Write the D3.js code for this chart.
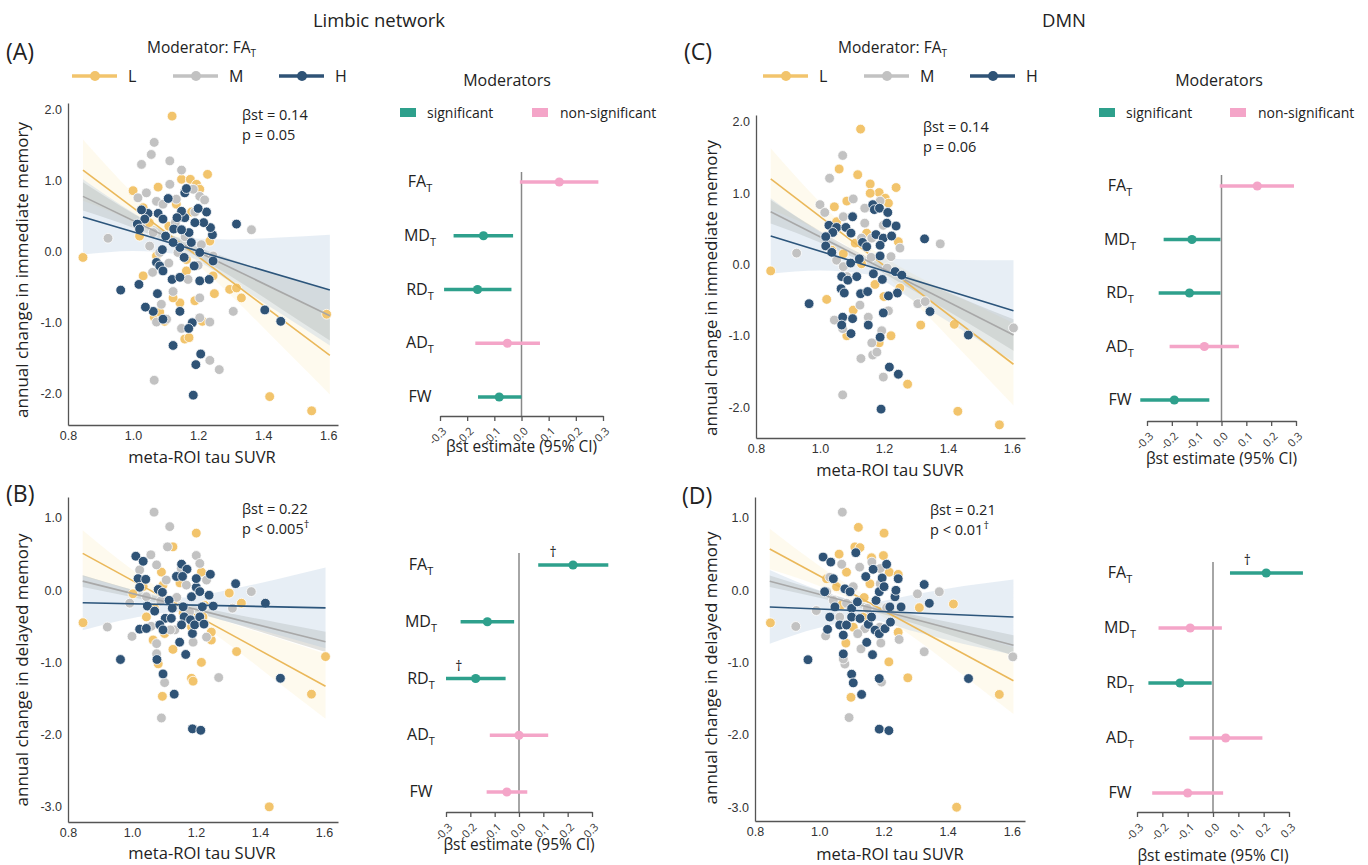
<!DOCTYPE html>
<html>
<head>
<meta charset="utf-8">
<script src="https://cdn.jsdelivr.net/npm/d3@7/dist/d3.min.js"></script>
<style>
  body { margin: 0; background: #fff; }
  svg { display: block; }
  text { font-family: "Open Sans", sans-serif; fill: #222; }
</style>
</head>
<body>
<svg id="fig" width="1368" height="865"></svg>
<script>
// ---- data ----
var tauTicks = [0.8, 1.0, 1.2, 1.4, 1.6];
var immTicks = [2.0, 1.0, 0.0, -1.0, -2.0];
var delTicks = [1.0, 0.0, -1.0, -2.0, -3.0];
var betaTicks = [-0.3, -0.2, -0.1, 0.0, 0.1, 0.2, 0.3];
var groupNames = ["L", "M", "H"];
var moderators = [["FA", "T"], ["MD", "T"], ["RD", "T"], ["AD", "T"], ["FW", ""]];

// fitted lines: value at x = fitX[0] and fitX[1], per group L, M, H
var fitX = [0.846, 1.605];
var fitA = [[1.14, -1.47], [0.77, -0.91], [0.48, -0.55]];
var fitB = [[0.51, -1.33], [0.125, -0.715], [-0.175, -0.245]];
var fitC = [[1.20, -1.40], [0.74, -0.99], [0.40, -0.65]];
var fitD = [[0.57, -1.25], [0.125, -0.76], [-0.23, -0.37]];

// confidence band half widths at bandX
var bandX = [0.846, 1.0, 1.15, 1.3, 1.45, 1.605];
var bandA = [[0.43, 0.2, 0.1, 0.2, 0.37, 0.55], [0.2, 0.1, 0.06, 0.12, 0.23, 0.35], [0.53, 0.27, 0.12, 0.3, 0.53, 0.78]];
var bandB = [[0.32, 0.15, 0.08, 0.15, 0.3, 0.45], [0.08, 0.05, 0.04, 0.06, 0.1, 0.14], [0.38, 0.2, 0.1, 0.22, 0.38, 0.56]];
var bandC = [[0.43, 0.2, 0.1, 0.2, 0.38, 0.58], [0.165, 0.08, 0.05, 0.09, 0.15, 0.22], [0.53, 0.27, 0.12, 0.3, 0.5, 0.71]];
var bandD = [[0.28, 0.14, 0.08, 0.15, 0.3, 0.46], [0.08, 0.05, 0.04, 0.06, 0.1, 0.14], [0.51, 0.26, 0.12, 0.26, 0.4, 0.52]];

// scatter points [tau SUVR, annual change, group 0=L 1=M 2=H]
var pointsA = [
  [1.12,1.90,0],[0.846,-0.09,0],[1.00,0.85,0],[1.077,0.90,0],[1.149,1.01,0],[1.176,1.01,0],[1.195,0.94,0],[1.229,1.08,0],
  [1.205,0.87,0],[1.031,0.61,0],[1.297,-0.54,0],[1.318,-0.52,0],[1.333,-0.66,0],[1.595,-0.89,0],[1.42,-2.05,0],[1.549,-2.25,0],
  [1.159,-1.24,0],[1.172,-1.22,0],[1.19,-0.70,0],[1.213,-0.99,0],[1.144,-0.73,0],[1.065,-0.93,0],[1.082,-0.86,0],[1.097,-0.99,0],
  [1.031,-0.35,0],[1.164,-0.28,0],[1.236,0.14,0],[1.246,-0.35,0],[1.072,-0.07,0],[1.123,-0.66,0],[1.02,0.21,0],[1.133,0.66,0],[1.164,-0.12,0],
  [1.05,0.40,0],[1.18,0.55,0],[1.25,-0.60,0],[1.11,0.35,0],
  [1.065,1.53,1],[1.056,1.36,1],[1.026,1.22,1],[1.113,1.27,1],[1.149,1.14,1],[0.923,0.18,1],[1.364,0.30,1],[1.308,-0.85,1],
  [1.065,-1.82,1],[1.265,-1.67,1],[1.236,-1.54,1],[1.236,-1.0,1],[1.149,-1.09,1],[1.205,-0.94,1],[1.205,-0.66,1],[1.205,-0.42,1],
  [1.123,-0.57,1],[1.015,0.75,1],[1.041,0.82,1],[1.072,0.70,1],[1.092,0.66,1],[1.113,0.94,1],[1.133,0.73,1],[1.185,0.87,1],
  [1.205,0.77,1],[1.21,0.09,1],[1.246,-0.07,1],[1.072,-1.0,1],[1.103,-0.96,1],[1.087,-0.75,1],[1.051,0.07,1],[1.082,-0.02,1],
  [1.062,0.26,1],[1.015,0.35,1],[1.11,-0.17,1],[1.138,-0.02,1],[1.169,-0.40,1],[1.172,0.25,1],[1.22,0.72,1],[1.19,0.55,1],[1.10,0.2,1],
  [1.16,0.2,1],[1.13,0.4,1],[1.2,-0.2,1],[1.06,-0.3,1],
  [1.185,-2.03,2],[1.123,-1.33,2],[1.208,-1.45,2],[1.193,-1.60,2],[1.182,-1.01,2],[1.171,-1.09,2],[1.092,-0.96,2],[1.144,-0.85,2],
  [1.062,-0.85,2],[1.038,-0.79,2],[1.075,-0.60,2],[0.962,-0.55,2],[1.018,-0.47,2],[1.12,-0.40,2],[1.144,-0.37,2],[1.205,-0.42,2],
  [1.234,-0.40,2],[1.405,-0.83,2],[1.454,-0.99,2],[1.318,0.38,2],[1.244,0.23,2],[1.238,0.33,2],[1.226,0.55,2],[1.20,0.60,2],
  [1.217,0.40,2],[1.19,0.40,2],[1.172,0.26,2],[1.179,0.12,2],[1.159,0.47,2],[1.149,0.56,2],[1.135,0.47,2],[1.125,0.31,2],
  [1.149,0.30,2],[1.159,0.82,2],[1.164,0.88,2],[1.108,0.74,2],[1.077,0.53,2],[1.092,0.45,2],[1.046,0.53,2],[1.026,0.58,2],
  [1.036,0.45,2],[1.013,0.38,2],[1.02,0.31,2],[1.09,0.02,2],[1.10,0.21,2],[1.072,-0.16,2],[1.082,-0.21,2],[1.092,-0.28,2],
  [1.144,0.05,2],[1.157,-0.09,2],[1.188,-0.21,2],[1.246,-0.14,2],[1.123,0.12,2],[1.205,-0.02,2]
];
var pointsB = [
  [1.201,0.79,0],[0.847,-0.45,0],[1.429,-3.0,0],[1.561,-1.44,0],[1.605,-0.92,0],[1.327,-0.85,0],[1.304,-0.04,0],[1.342,-0.18,0],
  [1.217,-1.0,0],[1.248,-0.69,0],[1.248,-0.58,0],[1.186,-1.22,0],[1.191,-1.26,0],[1.095,-1.47,0],[1.128,-0.82,0],[1.082,-1.02,0],
  [1.128,0.60,0],[1.217,0.25,0],[1.092,0.25,0],[1.097,0.07,0],[1.035,0.05,0],[1.045,-0.37,0],[1.003,-0.05,0],[1.186,-0.51,0],
  [1.222,-0.37,0],[1.128,-0.18,0],[1.16,-0.32,0],[1.066,-0.69,0],[1.102,-0.60,0],[1.227,-0.21,0],[1.15,0.1,0],[1.07,-0.25,0],
  [1.069,1.08,1],[1.118,0.88,1],[1.111,0.6,1],[1.201,0.48,1],[1.059,0.49,1],[1.077,0.35,1],[0.923,-0.51,1],[1.0,-0.64,1],
  [1.373,-0.02,1],[1.314,-0.25,1],[1.271,-1.21,1],[1.092,-1.77,1],[1.102,-1.28,1],[1.077,-0.88,1],[1.077,-0.74,1],[1.212,0.37,1],
  [1.233,0.14,1],[1.024,0.28,1],[1.045,-0.09,1],[1.107,0.14,1],[1.154,0.30,1],[1.17,0.07,1],[1.191,-0.72,1],[1.134,-0.55,1],
  [1.222,-0.23,1],[0.993,-0.18,1],[1.233,-0.65,1],[1.06,-0.5,1],[1.12,-0.55,1],[1.14,-0.1,1],[1.18,-0.3,1],[1.09,-0.15,1],
  [1.189,-1.92,2],[1.215,-1.94,2],[1.132,-1.44,2],[1.097,-1.16,2],[1.078,-0.96,2],[1.168,-0.89,2],[1.149,-0.72,2],[0.964,-0.96,2],
  [1.464,-1.22,2],[1.417,-0.18,2],[1.324,0.09,2],[1.012,0.47,2],[1.035,0.40,2],[1.019,0.16,2],[1.043,0.15,2],[1.024,0.04,2],
  [1.048,-0.22,2],[1.024,-0.54,2],[1.045,-0.53,2],[1.071,-0.29,2],[1.082,0.01,2],[1.095,-0.03,2],[1.104,-0.39,2],[1.087,-0.48,2],
  [1.097,-0.55,2],[1.116,-0.14,2],[1.126,-0.25,2],[1.123,-0.39,2],[1.139,0.19,2],[1.155,0.36,2],[1.172,0.29,2],[1.158,0.19,2],
  [1.16,-0.23,2],[1.163,-0.37,2],[1.155,-0.48,2],[1.186,-0.09,2],[1.183,-0.41,2],[1.189,-0.6,2],[1.201,0.04,2],[1.201,0.16,2],
  [1.212,-0.02,2],[1.196,-0.48,2],[1.212,-0.37,2],[1.225,-0.47,2],[1.241,-0.07,2],[1.245,0.22,2],[1.254,-0.22,2],[1.22,-0.23,2]
];
var pointsC = [
  [1.127,1.90,0],[0.846,-0.09,0],[1.06,1.34,0],[1.118,1.26,0],[1.157,1.13,0],[1.238,1.08,0],[1.185,1.01,0],[1.157,1.0,0],
  [1.204,0.93,0],[1.214,0.86,0],[1.084,0.89,0],[1.045,0.81,0],[1.021,-0.49,0],[1.315,-0.85,0],[1.42,-0.84,0],[1.431,-2.06,0],
  [1.561,-2.25,0],[1.274,-1.68,0],[1.222,-1.0,0],[1.185,-1.1,0],[1.172,-0.28,0],[1.245,0.32,0],[1.25,-0.33,0],[1.104,-0.64,0],
  [1.084,-1.0,0],[1.073,0.15,0],[1.052,0.6,0],[1.037,0.2,0],[1.146,0.44,0],[1.13,0.01,0],[1.2,-0.45,0],[1.11,0.3,0],
  [1.071,1.53,1],[1.03,1.21,1],[1.0,0.84,1],[1.015,0.73,1],[1.104,0.92,1],[1.188,0.89,1],[0.927,0.16,1],[1.376,0.29,1],
  [1.306,-0.55,1],[1.329,-0.52,1],[1.605,-0.89,1],[1.071,-1.83,1],[1.128,-1.32,1],[1.165,-1.27,1],[1.178,-1.23,1],[1.198,-1.58,1],
  [1.162,-1.10,1],[1.193,-0.93,1],[1.045,-0.78,1],[1.071,-0.90,1],[1.125,-0.57,1],[1.151,-0.74,1],[1.214,-0.65,1],[1.222,0.11,1],
  [1.25,0.23,1],[1.052,0.06,1],[1.073,-0.03,1],[1.14,0.58,1],[1.162,0.37,1],[1.198,0.55,1],[1.084,-0.17,1],[1.13,0.37,1],
  [1.073,0.67,1],[1.14,0.79,1],[1.16,0.1,1],[1.21,-0.05,1],
  [1.191,-2.03,2],[1.217,-1.44,2],[1.245,-1.54,2],[1.188,-1.02,2],[1.198,-0.68,2],[1.102,-0.76,2],[1.071,-0.74,2],[1.068,-0.85,2],
  [1.097,-0.97,2],[1.151,-0.85,2],[0.966,-0.55,2],[1.066,-0.34,2],[1.076,-0.40,2],[1.127,-0.41,2],[1.149,-0.38,2],[1.242,-0.40,2],
  [1.214,-0.44,2],[1.068,-0.17,2],[1.087,-0.22,2],[1.115,-0.17,2],[1.167,-0.13,2],[1.195,-0.21,2],[1.235,-0.10,2],[1.256,-0.15,2],
  [1.327,0.36,2],[1.344,-0.66,2],[1.464,-0.99,2],[1.028,0.55,2],[1.052,0.52,2],[1.04,0.45,2],[1.018,0.39,2],[1.018,0.26,2],
  [1.037,0.17,2],[1.081,0.52,2],[1.102,0.67,2],[1.097,0.44,2],[1.096,0.02,2],[1.123,0.08,2],[1.133,0.31,2],[1.146,0.25,2],
  [1.165,0.84,2],[1.17,0.77,2],[1.186,0.79,2],[1.212,0.73,2],[1.175,0.42,2],[1.198,0.37,2],[1.209,0.58,2],[1.188,0.27,2],
  [1.188,0.12,2],[1.224,0.40,2],[1.238,0.54,2]
];
var pointsD = [
  [1.122,0.87,0],[1.202,0.79,0],[0.848,-0.45,0],[1.428,-3.0,0],[1.561,-1.44,0],[1.418,-0.19,0],[1.312,-0.24,0],[1.276,-1.21,0],
  [1.217,-0.99,0],[1.099,-1.48,0],[1.083,-0.73,0],[1.111,0.60,0],[1.127,0.59,0],[1.163,0.45,0],[1.20,0.48,0],[1.062,0.50,0],
  [1.054,0.05,0],[1.218,0.25,0],[1.246,0.22,0],[1.246,-0.58,0],[1.085,0.25,0],[1.158,0.09,0],[1.023,0.16,0],[1.106,-0.51,0],[1.137,-0.37,0],
  [1.14,-0.1,0],[1.07,-0.2,0],
  [1.072,1.08,1],[1.126,0.32,1],[1.164,0.39,1],[1.19,0.30,1],[1.02,-0.63,1],[0.927,-0.50,1],[1.306,-0.05,1],[1.374,-0.02,1],
  [1.327,-0.85,1],[1.603,-0.92,1],[1.093,-1.76,1],[1.194,-1.27,1],[1.08,-1.02,1],[1.075,-0.95,1],[1.13,-0.81,1],[1.192,-0.73,1],
  [1.249,-0.68,1],[1.21,-0.24,1],[1.023,-0.02,1],[1.044,-0.14,1],[1.064,-0.37,1],[1.085,-0.18,1],[1.142,-0.53,1],[1.189,-0.51,1],
  [1.033,0.18,1],[1.106,0.05,1],[0.991,-0.28,1],[1.19,0.09,1],[1.07,0.36,1],[1.15,-0.25,1],[1.12,-0.6,1],
  [1.187,-1.92,2],[1.217,-1.94,2],[1.132,-1.44,2],[1.101,-1.16,2],[1.106,-1.28,2],[1.075,-0.88,2],[0.965,-0.96,2],[1.166,-0.89,2],
  [1.148,-0.72,2],[1.187,-1.22,2],[1.465,-1.22,2],[1.343,-0.18,2],[1.327,0.08,2],[1.012,0.46,2],[1.036,0.39,2],[1.114,0.52,2],
  [1.044,0.16,2],[1.017,-0.02,2],[1.049,-0.23,2],[1.033,-0.37,2],[1.026,-0.54,2],[1.064,-0.48,2],[1.075,-0.62,2],[1.085,-0.48,2],
  [1.08,0.02,2],[1.096,-0.02,2],[1.101,-0.25,2],[1.101,-0.37,2],[1.119,-0.16,2],[1.127,-0.39,2],[1.145,0.19,2],[1.168,0.29,2],
  [1.153,-0.47,2],[1.163,-0.37,2],[1.174,-0.55,2],[1.177,-0.14,2],[1.187,-0.02,2],[1.187,-0.6,2],[1.196,0.17,2],[1.202,0.05,2],
  [1.21,0.36,2],[1.205,-0.53,2],[1.22,-0.23,2],[1.222,-0.44,2],[1.236,-0.09,2],[1.239,0.0,2],[1.246,0.16,2],[1.255,-0.23,2]
];

// moderator estimates [beta, ci low, ci high, significant]
var forestA = [[0.139, -0.006, 0.283, 0], [-0.14, -0.25, -0.031, 1], [-0.162, -0.285, -0.037, 1], [-0.052, -0.17, 0.068, 0], [-0.082, -0.16, 0.0, 1]];
var forestB = [[0.222, 0.079, 0.367, 1], [-0.13, -0.24, -0.02, 1], [-0.178, -0.30, -0.055, 1], [0.0, -0.12, 0.12, 0], [-0.05, -0.133, 0.034, 0]];
var forestC = [[0.144, -0.007, 0.292, 0], [-0.119, -0.233, -0.004, 1], [-0.129, -0.253, -0.004, 1], [-0.069, -0.209, 0.07, 0], [-0.19, -0.327, -0.049, 1]];
var forestD = [[0.21, 0.067, 0.355, 1], [-0.09, -0.215, 0.035, 0], [-0.13, -0.255, -0.005, 1], [0.05, -0.093, 0.195, 0], [-0.10, -0.24, 0.04, 0]];
// daggers [row, beta position]
var daggerB = [[0, 0.14], [2, -0.247]];
var daggerD = [[0, 0.135]];

var statsA = ["βst = 0.14", "p = 0.05", ""];
var statsB = ["βst = 0.22", "p < 0.005", "†"];
var statsC = ["βst = 0.14", "p = 0.06", ""];
var statsD = ["βst = 0.21", "p < 0.01", "†"];

// ---- styles ----
var pointColors = ["#f2c46c", "#c2c2c2", "#2f5376"];
var lineColors = ["#eab85a", "#a8a8a8", "#2c557b"];
var bandColors = ["rgba(250,228,160,0.18)", "rgba(150,150,140,0.28)", "rgba(175,198,222,0.3)"];
var sigColor = "#2ea08c";
var nonSigColor = "#f4a5c8";

var svg = d3.select("#fig");
var fmt = function(d) { return d.toFixed(1); };

function drawScatter(p) {
  var x = d3.scaleLinear().domain(p.xDom).range(p.xRange);
  var y = d3.scaleLinear().domain(p.yDom).range(p.yRange);
  var g = svg.append("g");

  var area = d3.area()
    .x(function(d) { return x(d[0]); })
    .y0(function(d) { return y(d[1]); })
    .y1(function(d) { return y(d[2]); })
    .curve(d3.curveMonotoneX);

  function fitAt(fit, xv) {
    return fit[0] + (fit[1] - fit[0]) * (xv - fitX[0]) / (fitX[1] - fitX[0]);
  }

  // bands under everything
  p.band.forEach(function(hw, gi) {
    var rows = bandX.map(function(bx, i) {
      var c = fitAt(p.fit[gi], bx);
      return [bx, c - hw[i], c + hw[i]];
    });
    g.append("path").attr("d", area(rows)).attr("fill", bandColors[gi]);
  });

  // per group: points then its line
  [0, 1, 2].forEach(function(gi) {
    g.append("g").selectAll("circle")
      .data(p.pts.filter(function(d) { return d[2] === gi; }))
      .enter().append("circle")
      .attr("cx", function(d) { return x(d[0]); })
      .attr("cy", function(d) { return y(d[1]); })
      .attr("r", 4.9)
      .attr("fill", pointColors[gi])
      .attr("stroke", "#fff")
      .attr("stroke-width", 0.8);
    g.append("line")
      .attr("x1", x(fitX[0])).attr("y1", y(p.fit[gi][0]))
      .attr("x2", x(fitX[1])).attr("y2", y(p.fit[gi][1]))
      .attr("stroke", lineColors[gi]).attr("stroke-width", 1.6);
  });

  var xa = g.append("g")
    .attr("transform", "translate(0," + p.yRange[1] + ")")
    .call(d3.axisBottom(x).tickValues(tauTicks).tickSize(0).tickPadding(6).tickFormat(fmt));
  var ya = g.append("g")
    .attr("transform", "translate(" + p.xRange[0] + ",0)")
    .call(d3.axisLeft(y).tickValues(p.yTicks).tickSize(0).tickPadding(6).tickFormat(fmt));
  [xa, ya].forEach(function(a) {
    a.select(".domain").attr("stroke", "#555").attr("stroke-width", 1.3);
    a.selectAll("text").style("font-family", "'Liberation Sans', Arial, sans-serif")
      .style("font-size", "12.5px").style("fill", "#333");
  });

  g.append("text")
    .attr("transform", "translate(" + p.yLabelX + "," + p.yLabelY + ") rotate(-90)")
    .attr("text-anchor", "middle")
    .style("font-size", "17px")
    .text(p.yLabel);
  g.append("text")
    .attr("x", p.xLabelX).attr("y", p.xLabelY)
    .attr("text-anchor", "middle")
    .style("font-size", "16.5px")
    .text("meta-ROI tau SUVR");

  var st = g.append("text").attr("x", p.statX).attr("y", p.statY).style("font-size", "14.5px");
  st.text(p.stats[0]);
  var st2 = g.append("text").attr("x", p.statX).attr("y", p.statY + 20).style("font-size", "14.5px");
  st2.text(p.stats[1]);
  if (p.stats[2]) {
    st2.append("tspan").attr("dy", -6).style("font-size", "11px").text(p.stats[2]);
  }
}

function drawForest(f) {
  var x = d3.scaleLinear().domain([-0.3, 0.3]).range(f.xRange);
  var y = d3.scalePoint().domain(moderators.map(function(m) { return m[0]; })).range(f.rows);
  var g = svg.append("g");

  g.append("line")
    .attr("x1", x(0)).attr("x2", x(0))
    .attr("y1", f.top).attr("y2", f.axisY)
    .attr("stroke", "#888").attr("stroke-width", 1.5);

  var rows = g.selectAll("g.row").data(f.data).enter().append("g").attr("class", "row");
  rows.append("line")
    .attr("x1", function(d) { return x(d[1]); })
    .attr("x2", function(d) { return x(d[2]); })
    .attr("y1", function(d, i) { return y(moderators[i][0]); })
    .attr("y2", function(d, i) { return y(moderators[i][0]); })
    .attr("stroke", function(d) { return d[3] ? sigColor : nonSigColor; })
    .attr("stroke-width", 3.5);
  rows.append("circle")
    .attr("cx", function(d) { return x(d[0]); })
    .attr("cy", function(d, i) { return y(moderators[i][0]); })
    .attr("r", 4.6)
    .attr("fill", function(d) { return d[3] ? sigColor : nonSigColor; });

  moderators.forEach(function(m) {
    var t = g.append("text")
      .attr("x", f.labelX).attr("y", y(m[0]) + 5)
      .attr("text-anchor", "middle")
      .style("font-size", "16px")
      .text(m[0]);
    if (m[1]) t.append("tspan").attr("dy", 5).style("font-size", "11px").text(m[1]);
  });

  (f.daggers || []).forEach(function(dg) {
    g.append("text")
      .attr("x", x(dg[1])).attr("y", y(moderators[dg[0]][0]) - 8)
      .attr("text-anchor", "middle")
      .style("font-size", "14px")
      .text("†");
  });

  var ax = g.append("g")
    .attr("transform", "translate(0," + f.axisY + ")")
    .call(d3.axisBottom(x).tickValues(betaTicks).tickSize(5).tickSizeOuter(0).tickFormat(fmt));
  ax.select(".domain").attr("stroke", "#555").attr("stroke-width", 1.5);
  ax.selectAll(".tick line").attr("stroke", "#555").attr("stroke-width", 1.3);
  ax.selectAll("text")
    .attr("x", 0).attr("y", 0).attr("dy", "0.35em")
    .attr("text-anchor", "end")
    .attr("transform", "translate(4,13) rotate(-45)")
    .style("font-size", "11px").style("fill", "#333");

  g.append("text")
    .attr("x", (f.xRange[0] + f.xRange[1]) / 2).attr("y", f.titleY)
    .attr("text-anchor", "middle")
    .style("font-size", "15.5px")
    .text("βst estimate (95% CI)");
}

function drawGroupLegend(x0) {
  var offs = [0, 101, 207];
  var t = svg.append("text").attr("x", x0 + 75).attr("y", 53).style("font-size", "15.5px").text("Moderator: FA");
  t.append("tspan").attr("dy", 4).style("font-size", "10px").text("T");
  groupNames.forEach(function(nm, i) {
    var lx = x0 + offs[i];
    svg.append("line").attr("x1", lx).attr("x2", lx + 45).attr("y1", 76).attr("y2", 76)
      .attr("stroke", pointColors[i]).attr("stroke-width", 3.3);
    svg.append("circle").attr("cx", lx + 23).attr("cy", 76).attr("r", 5).attr("fill", pointColors[i]);
    svg.append("text").attr("x", lx + 56).attr("y", 82).style("font-size", "16px").text(nm);
  });
}

function drawSigLegend(x0, x1, cx) {
  svg.append("text").attr("x", cx).attr("y", 86).attr("text-anchor", "middle").style("font-size", "16px").text("Moderators");
  svg.append("rect").attr("x", x0).attr("y", 108).attr("width", 16).attr("height", 9).attr("fill", sigColor);
  svg.append("text").attr("x", x0 + 27).attr("y", 118).style("font-size", "14px").text("significant");
  svg.append("rect").attr("x", x1).attr("y", 108).attr("width", 16).attr("height", 9).attr("fill", nonSigColor);
  svg.append("text").attr("x", x1 + 28).attr("y", 118).style("font-size", "14px").text("non-significant");
}

// ---- headers ----
svg.append("text").attr("x", 379).attr("y", 27).attr("text-anchor", "middle").style("font-size", "18.5px").text("Limbic network");
svg.append("text").attr("x", 1064).attr("y", 27).attr("text-anchor", "middle").style("font-size", "18.5px").text("DMN");
[["(A)", 6, 60], ["(B)", 6, 502], ["(C)", 684, 60], ["(D)", 682, 504]].forEach(function(l) {
  svg.append("text").attr("x", l[1]).attr("y", l[2]).style("font-size", "23px").text(l[0]);
});
drawGroupLegend(72);
drawGroupLegend(763);
drawSigLegend(400, 532, 507);
drawSigLegend(1099, 1230, 1219);

// ---- panels ----
drawScatter({pts: pointsA, fit: fitA, band: bandA, yTicks: immTicks, stats: statsA,
  xDom: [0.8, 1.63], xRange: [68, 338], yDom: [2.085, -2.45], yRange: [103, 425],
  yLabel: "annual change in immediate memory", yLabelX: 28, yLabelY: 270, xLabelX: 202, xLabelY: 463, statX: 242, statY: 120});
drawScatter({pts: pointsB, fit: fitB, band: bandB, yTicks: delTicks, stats: statsB,
  xDom: [0.8, 1.644], xRange: [68, 338], yDom: [1.29, -3.21], yRange: [497, 822],
  yLabel: "annual change in delayed memory", yLabelX: 28, yLabelY: 670, xLabelX: 202, xLabelY: 859, statX: 242, statY: 514});
drawScatter({pts: pointsC, fit: fitC, band: bandC, yTicks: immTicks, stats: statsC,
  xDom: [0.8, 1.641], xRange: [756, 1025], yDom: [2.098, -2.435], yRange: [115, 438],
  yLabel: "annual change in immediate memory", yLabelX: 717, yLabelY: 288, xLabelX: 890, xLabelY: 476, statX: 923, statY: 132});
drawScatter({pts: pointsD, fit: fitD, band: bandD, yTicks: delTicks, stats: statsD,
  xDom: [0.8, 1.641], xRange: [755, 1025], yDom: [1.29, -3.19], yRange: [497, 821],
  yLabel: "annual change in delayed memory", yLabelX: 717, yLabelY: 668, xLabelX: 890, xLabelY: 860, statX: 930, statY: 515});

drawForest({data: forestA, xRange: [440, 603], rows: [182, 397], axisY: 416, top: 172, labelX: 420, titleY: 452});
drawForest({data: forestB, daggers: daggerB, xRange: [446, 592], rows: [565, 792], axisY: 812, top: 553, labelX: 421, titleY: 850});
drawForest({data: forestC, xRange: [1147, 1296], rows: [186, 400], axisY: 421, top: 175, labelX: 1120, titleY: 464});
drawForest({data: forestD, daggers: daggerD, xRange: [1137, 1289], rows: [573, 793], axisY: 812, top: 562, labelX: 1120, titleY: 861});
</script>
</body>
</html>
